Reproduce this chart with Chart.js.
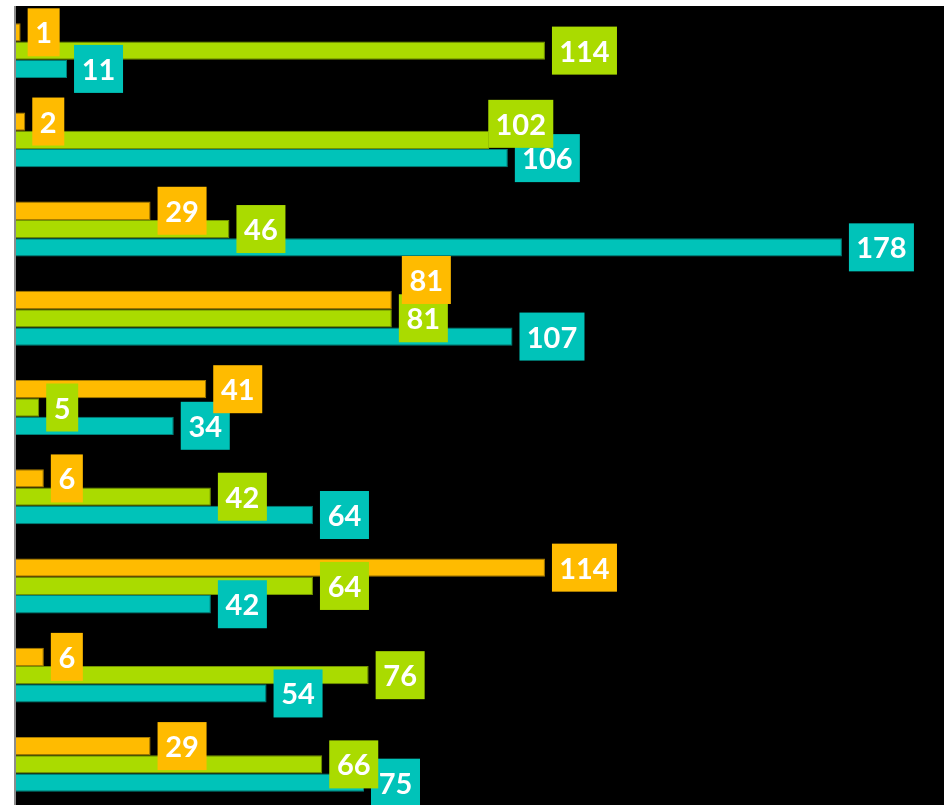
<!DOCTYPE html>
<html>
<head>
<meta charset="utf-8">
<script src="https://cdn.jsdelivr.net/npm/chart.js@4/dist/chart.umd.min.js"></script>
<style>
  html, body { margin: 0; padding: 0; background: #ffffff; overflow: hidden; }
  #wrap { position: absolute; left: 0; top: 0; width: 948px; height: 810px; }
</style>
</head>
<body>
<div id="wrap"><canvas id="c" width="948" height="810"></canvas></div>
<script>
const categories = ['1', '2', '3', '4', '5', '6', '7', '8', '9'];
const seriesOrange = [1, 2, 29, 81, 41, 6, 114, 6, 29];
const seriesGreen  = [114, 102, 46, 81, 5, 42, 64, 76, 66];
const seriesTeal   = [11, 106, 178, 107, 34, 64, 42, 54, 75];
const axisMin = 0;
const axisMax = 200;

const colors = {
  orange: { fill: '#FFBB00', border: '#A87C00' },
  green:  { fill: '#AADB00', border: '#739400' },
  teal:   { fill: '#00C3B9', border: '#00807A' }
};

// manual label nudges (dataset index, category index) -> [dx, dy]
const labelNudge = { '0-3': [3, -20], '1-1': [-8, -16] };

const bgPlugin = {
  id: 'bg',
  beforeDraw(chart) {
    const { ctx, chartArea } = chart;
    ctx.save();
    ctx.fillStyle = '#000000';
    ctx.fillRect(chartArea.left, chartArea.top, chartArea.right - chartArea.left, chartArea.bottom - chartArea.top);
    ctx.restore();
  },
  afterDatasetsDraw(chart) {
    const { ctx, chartArea } = chart;
    ctx.save();
    ctx.fillStyle = '#8c8c8c';
    ctx.fillRect(chartArea.left - 2, chartArea.top, 2, chartArea.bottom - chartArea.top);
    ctx.font = 'bold 29px Lato';
    for (let d = chart.data.datasets.length - 1; d >= 0; d--) {
      const ds = chart.data.datasets[d];
      const meta = chart.getDatasetMeta(d);
      meta.data.forEach((bar, i) => {
        const txt = String(ds.data[i]);
        const tw = ctx.measureText(txt).width;
        const w = Math.round(tw + 15), h = 48;
        const nud = labelNudge[d + '-' + i] || [0, 0];
        const left = bar.x + 7 + nud[0];
        const cy = bar.y + nud[1];
        ctx.fillStyle = ds.backgroundColor;
        ctx.fillRect(left, cy - h / 2, w, h);
        ctx.fillStyle = '#ffffff';
        ctx.textAlign = 'center';
        ctx.textBaseline = 'alphabetic';
        ctx.fillText(txt, left + w / 2, cy + 11);
      });
    }
    ctx.restore();
  }
};

new Chart(document.getElementById('c'), {
  type: 'bar',
  data: {
    labels: categories,
    datasets: [
      { data: seriesOrange, backgroundColor: colors.orange.fill, borderColor: colors.orange.border, borderWidth: 1 },
      { data: seriesGreen, backgroundColor: colors.green.fill, borderColor: colors.green.border, borderWidth: 1 },
      { data: seriesTeal, backgroundColor: colors.teal.fill, borderColor: colors.teal.border, borderWidth: 1 }
    ]
  },
  options: {
    indexAxis: 'y',
    responsive: false,
    animation: false,
    devicePixelRatio: 1,
    layout: { padding: { left: 16, top: 6, right: 4, bottom: 1 } },
    datasets: { bar: { categoryPercentage: 0.615, barPercentage: 1.0 } },
    scales: {
      x: { display: false, min: axisMin, max: axisMax },
      y: { display: false }
    },
    plugins: { legend: { display: false }, tooltip: { enabled: false } }
  },
  plugins: [bgPlugin]
});
</script>
</body>
</html>
